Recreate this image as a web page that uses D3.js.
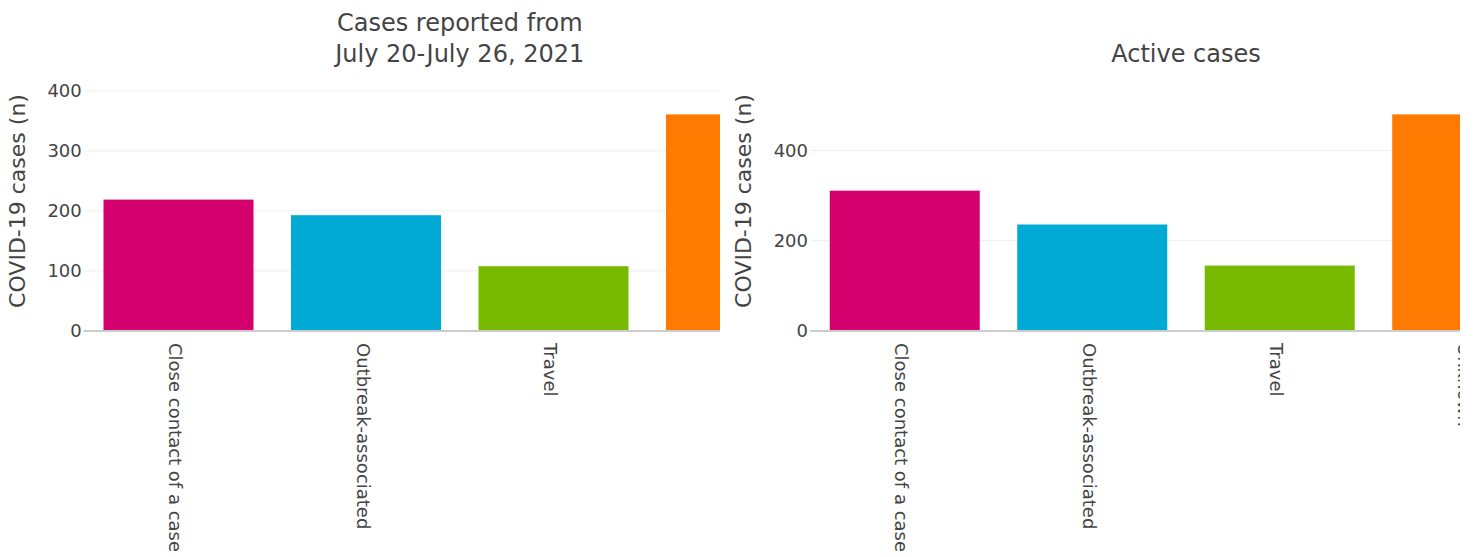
<!DOCTYPE html>
<html>
<head>
<meta charset="utf-8">
<script src="https://cdn.jsdelivr.net/npm/d3@7"></script>
<style>
  html, body { margin: 0; padding: 0; background: #fff; }
  svg { display: block; font-family: "DejaVu Sans", Verdana, sans-serif; }
</style>
</head>
<body>
<svg id="chart" width="1474" height="557"></svg>
<script>
// ---- data ----
const categories = ["Close contact of a case", "Outbreak-associated", "Travel", "Unknown"];
const weeklyCases = [219, 193, 108, 361];
const activeCases = [311, 236, 145, 480];
const barColors = ["#D4006E", "#00AAD4", "#78BA00", "#FF7A00"];
const weeklyTitle = ["Cases reported from", "July 20-July 26, 2021"];
const activeTitle = ["Active cases"];
const weeklyTicks = [0, 100, 200, 300, 400];
const activeTicks = [0, 200, 400];
const yAxisTitle = "COVID-19 cases (n)";

// ---- layout ----
const W = 1474, H = 557;
const plotL = 84.75, plotW = 750, plotT = 91, plotB = 331;
const textColor = "#444";

const panels = [
  { title: weeklyTitle, values: weeklyCases, ticks: weeklyTicks, ox: 0, clip: [0, 720] },
  { title: activeTitle, values: activeCases, ticks: activeTicks, ox: 726.25, clip: [726, 1460] }
];

const svg = d3.select("#chart");
const defs = svg.append("defs");

panels.forEach((p, i) => {
  defs.append("clipPath").attr("id", "clip" + i)
    .append("rect").attr("x", p.clip[0]).attr("y", 0)
    .attr("width", p.clip[1] - p.clip[0]).attr("height", H);

  const g = svg.append("g").attr("clip-path", `url(#clip${i})`)
    .append("g").attr("transform", `translate(${p.ox},0)`);

  const x = d3.scaleBand().domain(categories)
    .range([plotL, plotL + plotW]).paddingInner(0.2).paddingOuter(0.1);
  const y = d3.scaleLinear().domain([0, d3.max(p.values) * 1.108]).range([plotB, plotT]);

  // gridlines
  g.append("g").selectAll("line").data(p.ticks.filter(t => t !== 0)).join("line")
    .attr("x1", plotL).attr("x2", plotL + plotW)
    .attr("y1", d => y(d)).attr("y2", d => y(d))
    .attr("stroke", "#eeeeee").attr("stroke-width", 1);

  // bars
  g.append("g").selectAll("rect").data(categories).join("rect")
    .attr("x", d => x(d))
    .attr("width", x.bandwidth())
    .attr("y", (d, k) => y(p.values[k]))
    .attr("height", (d, k) => y(0) - y(p.values[k]))
    .attr("fill", (d, k) => barColors[k]);

  // zero line
  g.append("line")
    .attr("x1", plotL - 1).attr("x2", plotL + plotW)
    .attr("y1", y(0)).attr("y2", y(0))
    .attr("stroke", "#cccccc").attr("stroke-width", 2);

  // y axis
  const ya = g.append("g").attr("transform", `translate(${plotL},0)`)
    .call(d3.axisLeft(y).tickValues(p.ticks).tickSize(0).tickPadding(3).tickFormat(d3.format("d")));
  ya.select(".domain").remove();
  ya.selectAll("text").attr("font-size", 18).attr("fill", textColor)
    .attr("font-family", '"DejaVu Sans", Verdana, sans-serif');

  // x axis
  const xa = g.append("g").attr("transform", `translate(0,${plotB})`)
    .call(d3.axisBottom(x).tickSize(0));
  xa.select(".domain").remove();
  xa.selectAll("text")
    .attr("font-size", 18).attr("fill", textColor)
    .attr("font-family", '"DejaVu Sans", Verdana, sans-serif')
    .attr("text-anchor", "start")
    .attr("transform", "rotate(90)")
    .attr("x", 12).attr("y", 0).attr("dy", "0.52em");

  // y axis title
  g.append("text")
    .attr("transform", `translate(25,201) rotate(-90)`)
    .attr("text-anchor", "middle")
    .attr("font-size", 22).attr("fill", textColor)
    .text(yAxisTitle);

  // title
  const n = p.title.length;
  g.append("g").selectAll("text").data(p.title).join("text")
    .attr("x", plotL + plotW / 2)
    .attr("y", (d, k) => 62 - (n - 1 - k) * 31)
    .attr("text-anchor", "middle")
    .attr("font-size", 24).attr("fill", textColor)
    .text(d => d);
});
</script>
</body>
</html>
